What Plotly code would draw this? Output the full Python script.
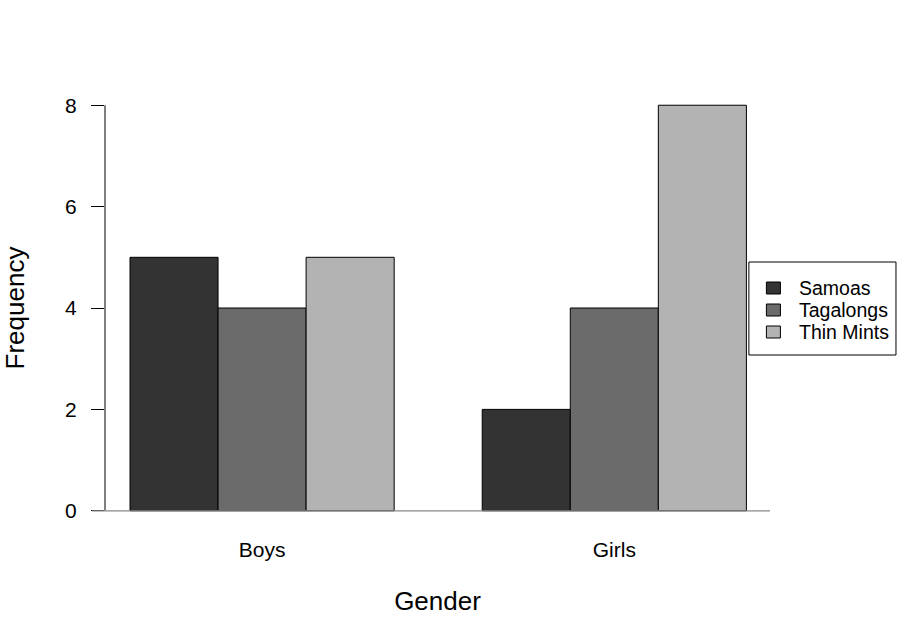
import plotly.graph_objects as go

genders = ["Boys", "Girls"]
cookies = ["Samoas", "Tagalongs", "Thin Mints"]
counts = {
    "Samoas": [5, 2],
    "Tagalongs": [4, 4],
    "Thin Mints": [5, 8],
}
colors = ["#333333", "#6b6b6b", "#b3b3b3"]
y_ticks = [0, 2, 4, 6, 8]

FONT = "Arial, Liberation Sans, sans-serif"
W, H = 901, 644
L, R, T, B = 105, 131.4, 89, 117
PW, PH = W - L - R, H - T - B


def px_x(px):
    return (px - L) / PW


def px_y(py):
    return (H - B - py) / PH


fig = go.Figure()
for name, col in zip(cookies, colors):
    fig.add_trace(go.Bar(
        x=genders, y=counts[name], name=name, showlegend=False,
        marker=dict(color=col, line=dict(color="black", width=1)),
    ))

fig.update_layout(
    width=W, height=H,
    margin=dict(l=L, r=R, t=T, b=B, autoexpand=False),
    paper_bgcolor="white", plot_bgcolor="white",
    barmode="group", bargap=0.25, bargroupgap=0,
    font=dict(family=FONT, color="black"),
    xaxis=dict(
        range=[-0.446, 1.442], showgrid=False, zeroline=False, showline=False,
        automargin=False,
        ticks="", tickfont=dict(size=21), ticklabelstandoff=8,
        title=dict(text="Gender", font=dict(size=26), standoff=31),
    ),
    yaxis=dict(
        range=[-0.32, 8.32], tickvals=y_ticks, showgrid=False, zeroline=False,
        automargin=False,
        showline=False, ticks="outside", ticklen=13, tickwidth=1, tickcolor="black",
        tickfont=dict(size=21), ticklabelstandoff=10,
        title=dict(text="Frequency", font=dict(size=26), standoff=34),
    ),
)

# y axis line from 0 to 8 (R style)
fig.add_shape(type="line", xref="paper", yref="y", x0=0, x1=0, y0=y_ticks[0], y1=y_ticks[-1],
              line=dict(color="black", width=1))
# baseline at 0
fig.add_shape(type="line", xref="paper", yref="y", x0=px_x(92), x1=1, y0=0, y1=0,
              line=dict(color="#888888", width=1.3))

# R-style legend box
fig.add_shape(type="rect", xref="paper", yref="paper",
              x0=px_x(748.5), x1=px_x(895.5), y0=px_y(355), y1=px_y(262),
              line=dict(color="black", width=1), fillcolor="white", layer="above")
for i, (name, col) in enumerate(zip(cookies, colors)):
    cy = 288 + 22 * i
    fig.add_shape(type="rect", xref="paper", yref="paper",
                  x0=px_x(766), x1=px_x(780), y0=px_y(cy + 6), y1=px_y(cy - 6),
                  line=dict(color="black", width=1), fillcolor=col, layer="above")
    fig.add_annotation(xref="paper", yref="paper", x=px_x(797), y=px_y(cy),
                       xanchor="left", yanchor="middle", showarrow=False,
                       text=name, font=dict(size=19.5, family=FONT, color="black"))

fig.write_html("out.html", config={"displayModeBar": False},
               post_script="document.body.style.margin='0';")
